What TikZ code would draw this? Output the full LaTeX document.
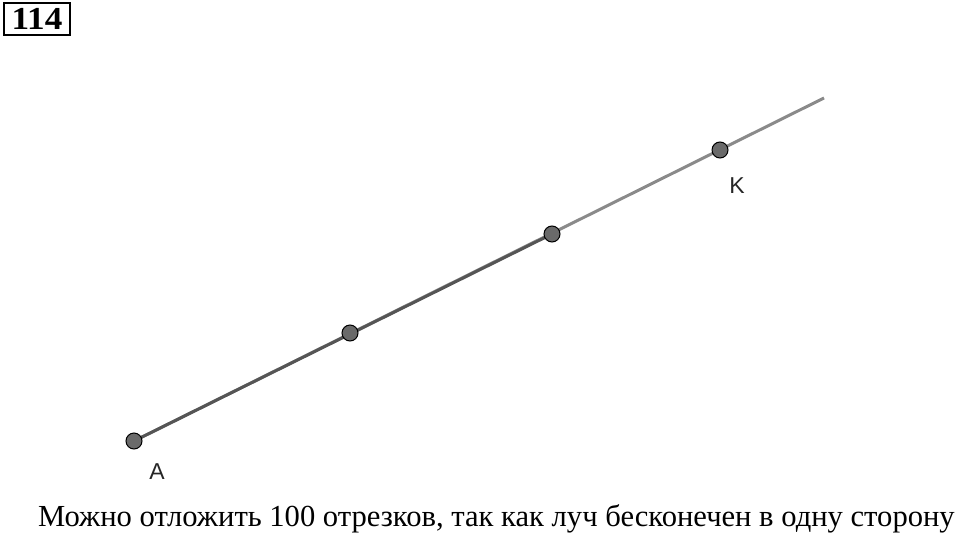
\documentclass[tikz,border=0pt]{standalone}
\usepackage{fontspec}
\setmainfont{Liberation Serif}
\newfontfamily\labelfont{Liberation Sans}
\usepackage{tikz}
\usepackage{xcolor}
\usetikzlibrary{backgrounds}
\definecolor{raygray}{HTML}{8A8A8A}
\definecolor{seggray}{HTML}{555555}
\definecolor{dotgray}{HTML}{6A6A6A}
\tikzset{
    num-box/.style = {draw=black, line width=2pt, rectangle, inner sep=0pt, minimum width=66pt, minimum height=32pt, font=\fontsize{32}{32}\selectfont\bfseries},
    ray-line/.style = {draw=raygray, line width=3pt},
    seg-line/.style = {draw=seggray, line width=3pt},
    pt-dot/.style = {circle, draw=black, fill=dotgray, line width=1pt, minimum size=16pt, inner sep=0pt},
    pt-label/.style = {font=\labelfont\fontsize{23}{23}\selectfont, text=black!85},
    answer/.style = {font=\fontsize{30.6}{30.6}\selectfont, anchor=base west, inner sep=0pt},
}

\begin{document}
\begin{tikzpicture}[x=1pt,y=-1pt]
\useasboundingbox (0,0) rectangle (960,535);
\node [num-box] (num) at (37,19) {\scalebox{1.1}[1]{114}};
% points of the ray
\node [pt-dot] (A) at (134,441) {};
\node [pt-dot] (B) at (350,333) {};
\node [pt-dot] (C) at (552,234) {};
\node [pt-dot] (K) at (720,150) {};
\coordinate (ray-end) at (824,98);
\begin{scope}[on background layer]
\draw [ray-line] (A.center) -- (ray-end);
\draw [seg-line] (A.center) -- (C.center);
\end{scope}
\node [pt-label] (A-label) at (157,472) {A};
\node [pt-label] (K-label) at (737,186) {K};
\node [answer] (text) at (38,526) {Можно отложить 100 отрезков, так как луч бесконечен в одну сторону};
\end{tikzpicture}
\end{document}
